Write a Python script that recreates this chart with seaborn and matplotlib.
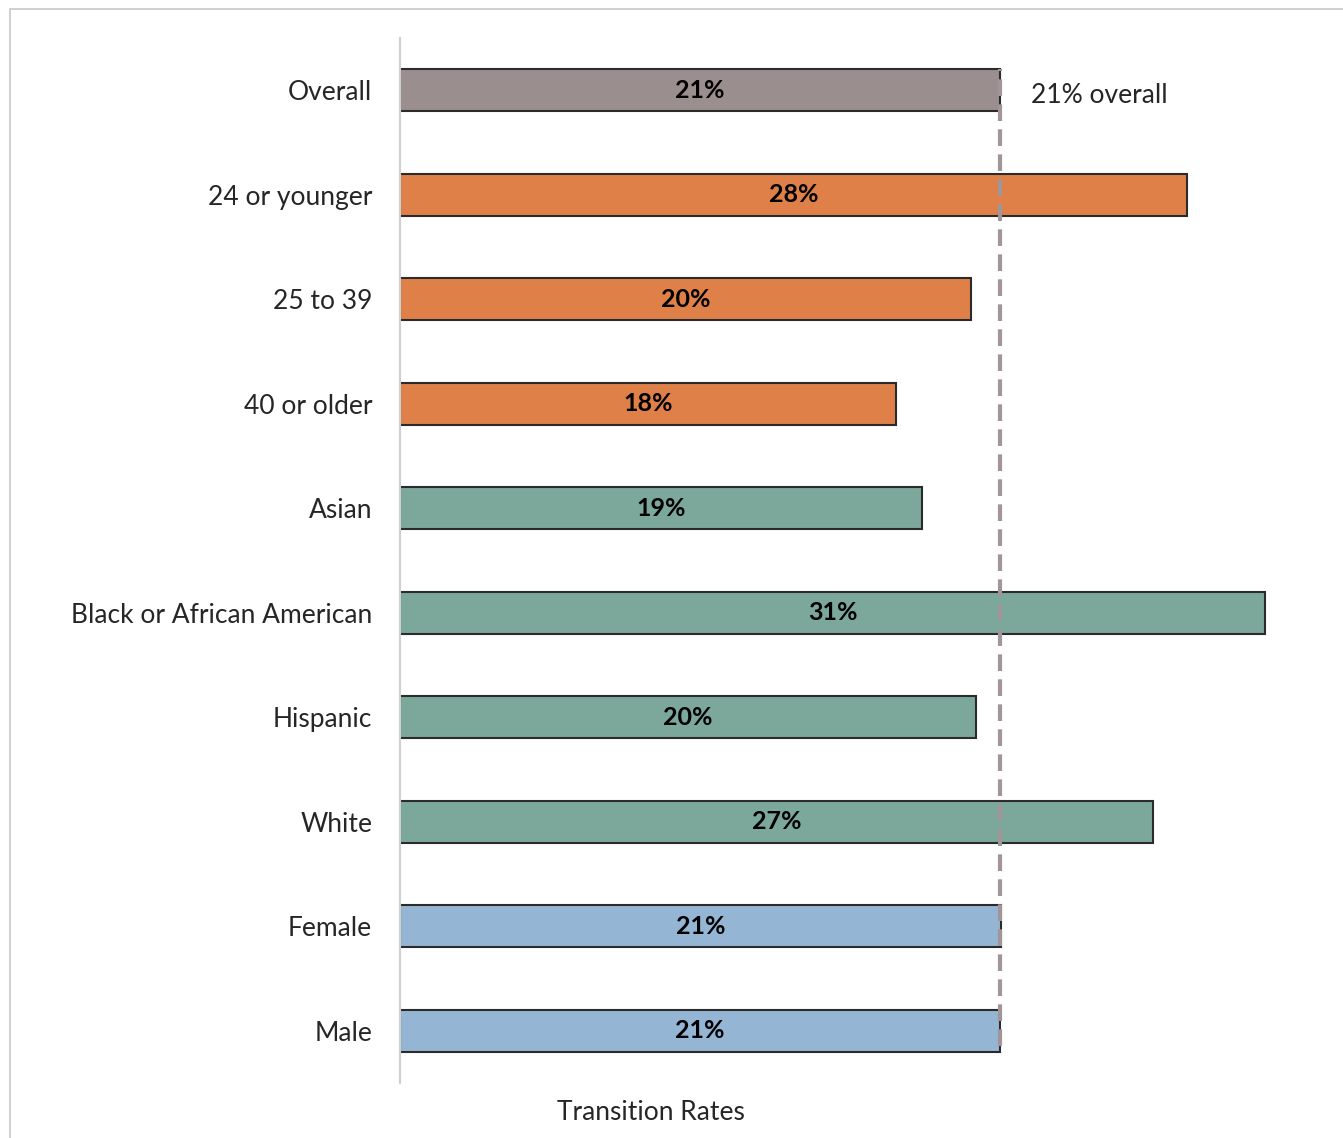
import pandas as pd
import matplotlib.pyplot as plt
import matplotlib.patches as mpatches
import seaborn as sns

sns.set_style("white")
plt.rcParams['font.family'] = ['Lato', 'DejaVu Sans']

groups = ['Overall', '24 or younger', '25 to 39', '40 or older', 'Asian',
          'Black or African American', 'Hispanic', 'White', 'Female', 'Male']
rates = [21.0, 27.55, 19.98, 17.36, 18.27, 30.28, 20.16, 26.36, 21.03, 21.0]
rate_labels = ['21%', '28%', '20%', '18%', '19%', '31%', '20%', '27%', '21%', '21%']
bar_colors = ['#9A8F8E', '#DE8048', '#DE8048', '#DE8048', '#7BA89A',
              '#7BA89A', '#7BA89A', '#7BA89A', '#94B5D3', '#94B5D3']
overall_rate = 21.0

df = pd.DataFrame({'group': groups, 'rate': rates})

fig = plt.figure(figsize=(13.43, 11.38), dpi=100)
ax = fig.add_axes([400 / 1343, 55 / 1138, 900 / 1343, 1045 / 1138])

sns.barplot(data=df, y='group', x='rate', hue='group', palette=bar_colors,
            orient='h', width=0.4, saturation=1, edgecolor='#2B2B2B',
            linewidth=1.5, legend=False, ax=ax)

for cont, lab in zip(ax.containers, rate_labels):
    ax.bar_label(cont, labels=[lab], label_type='center', fontsize=18,
                 fontweight='bold', color='black')

ax.axvline(overall_rate, ymin=0.035, ymax=0.97, color='#A09599', lw=3,
           dashes=(4, 2), zorder=5)
ax.text(overall_rate + 1.1, 0.05, f'{overall_rate:.0f}% overall', fontsize=19,
        va='center', ha='left')

ax.set_xlim(0, 31.5)
ax.set_ylim(9.5, -0.5)
ax.set_xticks([])
ax.set_xlabel('')
ax.set_ylabel('')
ax.tick_params(axis='y', length=0, pad=20, labelsize=19)
for s in ['top', 'right', 'bottom']:
    ax.spines[s].set_visible(False)
ax.spines['left'].set_color('#D0D0D0')
ax.spines['left'].set_linewidth(1.5)

fig.text(651 / 1343, 1 - 1112 / 1138, 'Transition Rates', fontsize=19,
         ha='center', va='center')

# light frame around the chart area
fig.patches.append(mpatches.Rectangle((10 / 1343, -0.05), 1.1, 1 - 9 / 1138 + 0.05,
                                      transform=fig.transFigure, fill=False,
                                      edgecolor='#C8C8C8', lw=1.2))

fig.savefig('out.png', dpi=100)
